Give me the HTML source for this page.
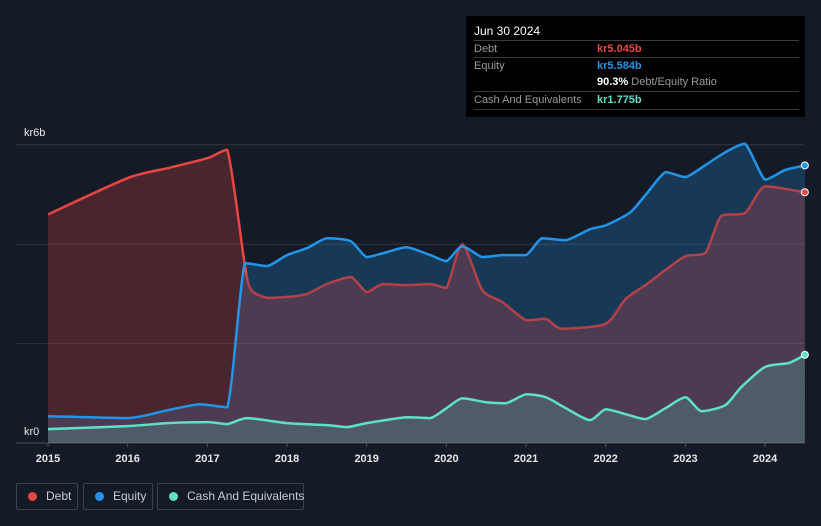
<!DOCTYPE html>
<html><head><meta charset="utf-8"><style>
body{margin:0;background:#151b26;font-family:"Liberation Sans",sans-serif;}
#wrap{position:relative;width:821px;height:526px;overflow:hidden;background:#151b26;}
svg{position:absolute;left:0;top:0}
.tip{position:absolute;left:466px;top:16px;width:339px;height:101px;background:#000;color:#fff;font-size:11px}
.tip .row{position:absolute;left:8px;right:6px;border-top:1px solid #3a3a3a;height:17px;line-height:17px;color:#9a9a9a}
.leg{position:absolute;top:483px;height:27px;border:1px solid #3b414d;border-radius:2px;color:#c8ccd2;font-size:12px;line-height:25px;box-sizing:border-box;white-space:nowrap}
.dot{display:inline-block;width:9px;height:9px;border-radius:50%;margin:0 9px 0 11px;vertical-align:-1px}
</style></head><body>
<div id="wrap">
<svg id="chart" width="821" height="526"></svg>
<div class="tip">
<div style="position:absolute;left:8px;top:8px;font-size:12px">Jun 30 2024</div>
<div class="row" style="top:24px">Debt<span style="position:absolute;left:123px;color:#e84545;font-weight:bold">kr5.045b</span></div>
<div class="row" style="top:41px">Equity<span style="position:absolute;left:123px;color:#2394e8;font-weight:bold">kr5.584b</span></div>
<div class="row" style="top:58px;border-top:none"><span style="position:absolute;left:123px;white-space:nowrap"><b style="color:#fff">90.3%</b> Debt/Equity Ratio</span></div>
<div class="row" style="top:75px">Cash And Equivalents<span style="position:absolute;left:123px;color:#5fe0c8;font-weight:bold">kr1.775b</span></div>
<div class="row" style="top:93px;height:0"></div>
</div>
<div class="leg" style="left:16px;width:62px"><span class="dot" style="background:#e84545"></span>Debt</div>
<div class="leg" style="left:83px;width:70px"><span class="dot" style="background:#2394e8"></span>Equity</div>
<div class="leg" style="left:157px;width:147px"><span class="dot" style="background:#5fe0c8"></span>Cash And Equivalents</div>
</div>
<script>
const debtT=[2015,2016,2016.5,2017,2017.25,2017.47,2017.55,2017.75,2018,2018.25,2018.5,2018.8,2019,2019.2,2019.5,2019.8,2020,2020.2,2020.45,2020.7,2021,2021.25,2021.45,2022,2022.25,2022.5,2022.75,2023,2023.25,2023.45,2023.75,2024,2024.5];
const debtV=[4.6,5.33,5.53,5.73,5.9,3.58,3.08,2.92,2.94,3.0,3.2,3.34,3.04,3.2,3.18,3.2,3.12,4.0,3.08,2.84,2.47,2.5,2.3,2.4,2.9,3.18,3.48,3.76,3.82,4.57,4.63,5.17,5.045];
const eqT=[2015,2016,2016.5,2016.9,2017.25,2017.47,2017.75,2018,2018.25,2018.5,2018.8,2019,2019.25,2019.5,2019.8,2020,2020.2,2020.45,2020.7,2021,2021.2,2021.5,2021.8,2022,2022.3,2022.5,2022.75,2023,2023.25,2023.5,2023.75,2024,2024.25,2024.5];
const eqV=[0.54,0.5,0.66,0.78,0.72,3.62,3.56,3.78,3.92,4.12,4.06,3.74,3.84,3.94,3.78,3.66,3.96,3.74,3.78,3.78,4.12,4.08,4.3,4.38,4.63,4.99,5.45,5.35,5.59,5.85,6.02,5.3,5.49,5.584];
const cashT=[2015,2016,2016.5,2017,2017.25,2017.5,2018,2018.5,2018.75,2019,2019.5,2019.8,2020,2020.2,2020.5,2020.75,2021,2021.25,2021.5,2021.8,2022,2022.25,2022.5,2022.75,2023,2023.2,2023.5,2023.7,2024,2024.3,2024.5];
const cashV=[0.28,0.34,0.4,0.42,0.38,0.5,0.4,0.36,0.32,0.4,0.52,0.5,0.7,0.9,0.82,0.8,0.98,0.92,0.7,0.46,0.68,0.58,0.48,0.7,0.92,0.64,0.76,1.12,1.53,1.61,1.775];
const yearTicks=[2015,2016,2017,2018,2019,2020,2021,2022,2023,2024];
const yTicks=[0,2,4,6];
const yLabels={0:"kr0",6:"kr6b"};
const NS="http://www.w3.org/2000/svg";
const svg=document.getElementById('chart');
const x=t=>48+(t-2015)*79.67, y=v=>443-v*49.7;
function mk(tag,attrs,parent){const e=document.createElementNS(NS,tag);for(const k in attrs)e.setAttribute(k,attrs[k]);(parent||svg).appendChild(e);return e;}
yTicks.forEach(v=>{const l=mk('line',{x1:16,x2:805,y1:y(v),y2:y(v),stroke:v==0?'#4a505c':'#30353f','stroke-width':1});


if(yLabels[v]!==undefined){const t=mk('text',{x:24,y:v==0?435:136,fill:'#e6e6e6','font-size':11});t.textContent=yLabels[v];

}});
yearTicks.forEach(yr=>{const t=mk('text',{x:x(yr),y:462,fill:'#e6e6e6','font-size':11,'text-anchor':'middle','font-weight':'bold'});t.textContent=yr;


const tk=mk('line',{x1:x(yr),x2:x(yr),y1:443,y2:447,stroke:'#4a505c'});

});
const cl3=(v,a,b)=>Math.min(Math.max(v,Math.min(a,b)),Math.max(a,b));
function line(T,V){
  const P=T.map((t,i)=>[x(t),y(V[i])]);let d='M'+P[0][0].toFixed(1)+','+P[0][1].toFixed(1);
  const k=0.12;
  for(let i=0;i<P.length-1;i++){const p0=P[Math.max(0,i-1)],p1=P[i],p2=P[i+1],p3=P[Math.min(P.length-1,i+2)];
    const c1=[p1[0]+(p2[0]-p0[0])*k,p1[1]+(p2[1]-p0[1])*k],c2=[p2[0]-(p3[0]-p1[0])*k,p2[1]-(p3[1]-p1[1])*k];
    c1[0]=cl3(c1[0],p1[0],p2[0]);c2[0]=cl3(c2[0],p1[0],p2[0]);
    c1[1]=cl3(c1[1],p1[1],p2[1]);c2[1]=cl3(c2[1],p1[1],p2[1]);
    d+=' C'+c1.map(n=>n.toFixed(1)).join(',')+' '+c2.map(n=>n.toFixed(1)).join(',')+' '+p2[0].toFixed(1)+','+p2[1].toFixed(1);}
  return d;}
function area(T,V){return line(T,V)+' L'+x(T[T.length-1])+','+y(0)+' L'+x(T[0])+','+y(0)+' Z';}
const ea=mk('path',{d:area(eqT,eqV),fill:'#2394e8','fill-opacity':0.25});


const da=mk('path',{d:area(debtT,debtV),fill:'#e84545','fill-opacity':0.25});


const ca=mk('path',{d:area(cashT,cashV),fill:'#5fe0c8','fill-opacity':0.2});


const clip=mk('clipPath',{id:'afterDrop'});mk('rect',{x:x(2017.5),y:0,width:821,height:526},clip);
const clip2=mk('clipPath',{id:'beforeDrop'});mk('rect',{x:0,y:0,width:x(2017.5),height:526},clip2);
const dl=mk('path',{d:line(debtT,debtV),fill:'none',stroke:'#e84545','stroke-width':2.5,'stroke-linejoin':'round','clip-path':'url(#beforeDrop)'});


const dl2=mk('path',{d:line(debtT,debtV),fill:'none',stroke:'#e84545','stroke-opacity':0.7,'stroke-width':2.5,'stroke-linejoin':'round','clip-path':'url(#afterDrop)'});


const el=mk('path',{d:line(eqT,eqV),fill:'none',stroke:'#2394e8','stroke-width':2.5,'stroke-linejoin':'round'});


const cl=mk('path',{d:line(cashT,cashV),fill:'none',stroke:'#5fe0c8','stroke-width':2.5,'stroke-linejoin':'round'});


[[debtT,debtV,'#e84545','debt-end-point'],[eqT,eqV,'#2394e8','equity-end-point'],[cashT,cashV,'#5fe0c8','cash-end-point']].forEach(([T,V,c,n])=>{
const p=mk('circle',{cx:x(T[T.length-1]),cy:y(V[V.length-1]),r:3.5,fill:c,stroke:'#fff','stroke-width':1});

});
</script>
</body></html>
